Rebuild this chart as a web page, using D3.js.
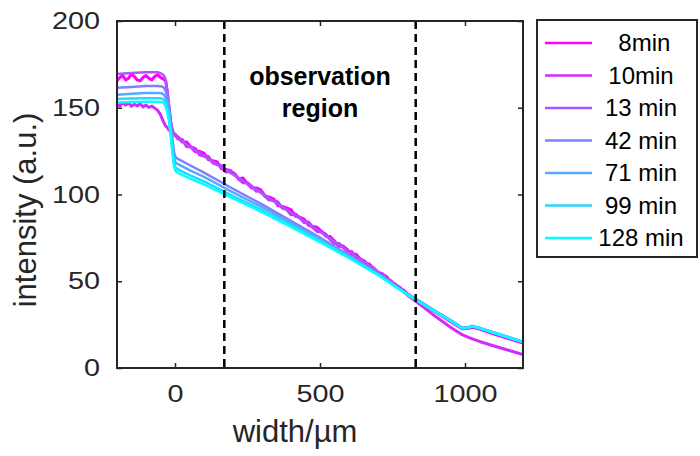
<!DOCTYPE html>
<html>
<head>
<meta charset="utf-8">
<script src="https://cdn.jsdelivr.net/npm/d3@7"></script>
<style>
body { margin: 0; background: #fff; }
svg text { font-family: "Liberation Sans", Arial, Helvetica, sans-serif; fill: #262626; }
</style>
</head>
<body>
<svg id="chart" width="700" height="456"></svg>
<script>
// legend labels and colours (cool colormap, magenta -> cyan)
var seriesNames = [" 8min", "10min", "13 min", "42 min", "71 min", "99 min", "128 min"];
var seriesColors = ["#ff00ff", "#d52aff", "#aa55ff", "#8080ff", "#55aaff", "#2ad5ff", "#00ffff"];

var xTicks = [0, 500, 1000];
var yTicks = [0, 50, 100, 150, 200];
var regionBounds = [170, 830];

// sampling grid of the two noisy (early) profiles
var xNoisy = [-200, -190, -180, -170, -160, -150, -140, -130, -120, -110, -100, -90, -80, -70, -60, -50, -40,
	-32, -26, -20, -14, -8, -3, 2,
	10, 25, 40, 55, 70, 85, 100, 115, 130, 145, 160, 175, 190, 205, 220, 235, 250, 265, 280, 295,
	310, 325, 340, 355, 370, 385, 400, 415, 430, 445, 460, 475, 490, 505, 520, 535, 550, 565, 580, 595,
	610, 625, 640, 655, 670, 685, 700, 715, 730, 745, 760, 775, 790, 805,
	850, 900, 950, 990, 1010, 1025, 1050, 1100, 1150, 1200];

var min8 = [165.5, 167.5, 168.5, 166, 167, 169.5, 168, 166, 165.5, 167.5, 168.5, 167, 166, 168, 169, 167.5, 166.5,
	165.5, 158.5, 149, 141, 136.5, 135, 134,
	133.3, 130.2, 130.3, 127.2, 124.7, 124.9, 123.9, 120.1, 119.4, 118.9, 114.9, 114.5, 113.9, 111.9, 108.8, 109.5, 106.1, 103.7, 103.8, 102.8,
	99.2, 98.4, 97.5, 93.6, 93.1, 92.2, 91.3, 87.5, 86.9, 85.8, 82.3, 81.5, 81.1, 78.8, 75.9, 75.8, 73.2, 70.2, 70.3, 68.2,
	65.4, 65.5, 62.6, 60.3, 59.9, 57.3, 54.9, 54.1, 52.6, 49.4, 48.3, 45.9, 44.7, 42,
	37.3, 32.2, 26.8, 22.6, 22.7, 23.4, 22.4, 19.6, 16.9, 14.3];

var min10 = [152.5, 151, 153, 151.5, 152.8, 150.8, 152, 151, 152.3, 150.5, 151.5, 150.2, 151, 149.8, 148.5, 146, 142,
	139.5, 138.5, 137, 136.5, 135.8, 135, 134.5,
	132, 131.7, 127.6, 127.4, 126.6, 122.8, 122.2, 121.9, 118.2, 117.2, 116.7, 113, 113.2, 112.2, 108.9, 106.7, 106.8, 104.7, 101.9, 102.5,
	99.1, 96.8, 96.8, 95.6, 92.2, 91.3, 88.3, 88.8, 86.7, 83.9, 84.2, 81.1, 78.7, 78.5, 77.2, 74, 71.7, 71.8, 69.5, 67,
	67.1, 63.3, 62.7, 61.6, 58.1, 57.7, 55.1, 54.3, 51.1, 50.3, 47.7, 46.6, 43.8, 41.6,
	36, 29.5, 23.5, 19.2, 17.8, 16.8, 15.3, 12.7, 10.2, 7.8];

// sampling grid of the smooth (later) profiles
var xSmooth = [-200, -150, -100, -60, -45, -38, -32, -26, -20, -14, -8, -3, 2, 10, 50, 100,
	200, 300, 400, 500, 600, 700, 800, 900, 960, 990, 1010, 1025, 1050, 1100, 1150, 1200];

var min13 = [169.5, 170, 170.5, 170.5, 169.5, 168.5, 166, 159, 149, 140.5, 136, 134.5, 133.5, 132.5, 127.5, 122,
	111.5, 100.5, 89.5, 78.5, 67, 55.5, 43, 32.5, 26.5, 23.2, 23.3, 24, 23, 20.3, 17.7, 15];
var min42 = [161.5, 162, 162.5, 162.5, 162.3, 161.5, 159.5, 156, 150.5, 141.5, 131, 124, 121.5, 120.5, 117, 112.6,
	103.3, 94.3, 84.8, 75.1, 64.9, 54.4, 42.7, 32.5, 26.5, 23.2, 23.3, 24.2, 23.1, 20.4, 17.8, 15.1];
var min71 = [157.5, 158, 158.5, 158.5, 158.3, 157.5, 155.5, 152, 146.5, 137.5, 127.5, 121, 118.5, 117.5, 114, 110.1,
	101.2, 92.7, 83.5, 74.2, 64.3, 54.1, 42.6, 32.4, 26.4, 23.1, 23.3, 24.2, 23.1, 20.4, 17.8, 15.1];
var min99 = [155, 155.3, 155.5, 155.5, 155.3, 154.5, 152.5, 149, 143.5, 134.5, 124.5, 118, 115.5, 114.5, 111.2, 107.5,
	99.1, 91, 82.2, 73.2, 63.8, 53.8, 42.5, 32.3, 26.3, 23, 23.2, 24.1, 23, 20.3, 17.7, 15];
var min128 = [153, 153.3, 153.5, 153.5, 153.3, 152.5, 150.5, 147, 141.5, 132.5, 122.5, 116, 113.5, 112.5, 109.3, 105.8,
	97.7, 89.9, 81.3, 72.6, 63.4, 53.6, 42.4, 32.2, 26.2, 22.9, 23.1, 24, 22.9, 20.2, 17.6, 14.9];

var series = [
	{name: seriesNames[0], color: seriesColors[0], xs: xNoisy, ys: min8},
	{name: seriesNames[1], color: seriesColors[1], xs: xNoisy, ys: min10},
	{name: seriesNames[2], color: seriesColors[2], xs: xSmooth, ys: min13},
	{name: seriesNames[3], color: seriesColors[3], xs: xSmooth, ys: min42},
	{name: seriesNames[4], color: seriesColors[4], xs: xSmooth, ys: min71},
	{name: seriesNames[5], color: seriesColors[5], xs: xSmooth, ys: min99},
	{name: seriesNames[6], color: seriesColors[6], xs: xSmooth, ys: min128}
];

var svg = d3.select("#chart"),
	margin = {top: 21, right: 177, bottom: 88, left: 117},
	width = +svg.attr("width") - margin.left - margin.right,
	height = +svg.attr("height") - margin.top - margin.bottom;

var x = d3.scaleLinear().domain([-200, 1200]).range([0, width]),
	y = d3.scaleLinear().domain([0, 200]).range([height, 0]);

var g = svg.append("g")
	.attr("transform", "translate(" + margin.left + "," + margin.top + ")");

g.append("defs").append("clipPath")
	.attr("id", "clip")
	.append("rect")
	.attr("width", width)
	.attr("height", height);

var line = d3.line()
	.x(function(d) { return x(d[0]); })
	.y(function(d) { return y(d[1]); });

g.append("g")
	.attr("clip-path", "url(#clip)")
	.selectAll(".profile")
	.data(series)
	.enter().append("path")
	.attr("class", "profile")
	.attr("fill", "none")
	.attr("stroke", function(d) { return d.color; })
	.attr("stroke-width", function(d, i) { return i < 2 ? 3 : 2.5; })
	.attr("stroke-linejoin", "round")
	.attr("d", function(d) { return line(d.xs.map(function(v, i) { return [v, d.ys[i]]; })); });

// observation region boundaries
g.selectAll(".bound")
	.data(regionBounds)
	.enter().append("line")
	.attr("class", "bound")
	.attr("x1", function(d) { return x(d); })
	.attr("x2", function(d) { return x(d); })
	.attr("y1", 0)
	.attr("y2", height)
	.attr("stroke", "#000")
	.attr("stroke-width", 2.5)
	.attr("stroke-dasharray", "8,5");

var note = g.append("text")
	.attr("x", x((regionBounds[0] + regionBounds[1]) / 2))
	.attr("y", 64)
	.attr("text-anchor", "middle")
	.style("font-weight", "bold")
	.style("font-size", "25px")
	.style("fill", "#000");
note.append("tspan").attr("x", x((regionBounds[0] + regionBounds[1]) / 2)).text("observation");
note.append("tspan").attr("x", x((regionBounds[0] + regionBounds[1]) / 2)).attr("dy", 32).text("region");

// axes, MATLAB style: ticks inside, box on
function stretch(sel) {
	sel.selectAll("text").each(function() {
		var w = this.getComputedTextLength();
		d3.select(this).attr("textLength", w * 1.2).attr("lengthAdjust", "spacingAndGlyphs");
	});
}

var xAxis = g.append("g")
	.attr("transform", "translate(0," + height + ")")
	.call(d3.axisBottom(x).tickValues(xTicks).tickFormat(d3.format("d")).tickSizeInner(-5).tickSizeOuter(0).tickPadding(17));
var yAxis = g.append("g")
	.call(d3.axisLeft(y).tickValues(yTicks).tickFormat(d3.format("d")).tickSizeInner(-5).tickSizeOuter(0).tickPadding(17));
g.append("g")
	.call(d3.axisTop(x).tickValues(xTicks).tickSizeInner(-5).tickSizeOuter(0).tickFormat(""));
g.append("g")
	.attr("transform", "translate(" + width + ",0)")
	.call(d3.axisRight(y).tickValues(yTicks).tickSizeInner(-5).tickSizeOuter(0).tickFormat(""));

g.selectAll(".domain").remove();
g.selectAll(".tick line").attr("stroke", "#262626").attr("stroke-width", 1.5);
g.selectAll(".tick text").style("font-size", "24px").attr("fill", "#262626");
stretch(xAxis);
stretch(yAxis);

g.append("rect")
	.attr("width", width)
	.attr("height", height)
	.attr("fill", "none")
	.attr("stroke", "#262626")
	.attr("stroke-width", 2);

svg.append("text")
	.attr("x", 295)
	.attr("y", 442)
	.attr("text-anchor", "middle")
	.style("font-size", "31px")
	.text("width/\u00b5m");

svg.append("text")
	.attr("transform", "translate(36,210) rotate(-90)")
	.attr("text-anchor", "middle")
	.style("font-size", "31px")
	.text("intensity (a.u.)");

// legend
var legend = svg.append("g").attr("transform", "translate(537,20)");
legend.append("rect")
	.attr("width", 160)
	.attr("height", 237)
	.attr("fill", "#fff")
	.attr("stroke", "#262626")
	.attr("stroke-width", 2);

var item = legend.selectAll(".item")
	.data(series)
	.enter().append("g")
	.attr("class", "item")
	.attr("transform", function(d, i) { return "translate(0," + (23 + i * 32.5) + ")"; });
item.append("line")
	.attr("x1", 8)
	.attr("x2", 55)
	.attr("stroke", function(d) { return d.color; })
	.attr("stroke-width", 2.5);
item.append("text")
	.attr("x", 104)
	.attr("dy", "0.35em")
	.attr("text-anchor", "middle")
	.style("font-size", "24px")
	.style("fill", "#000")
	.style("white-space", "pre")
	.text(function(d) { return d.name; });
</script>
</body>
</html>
